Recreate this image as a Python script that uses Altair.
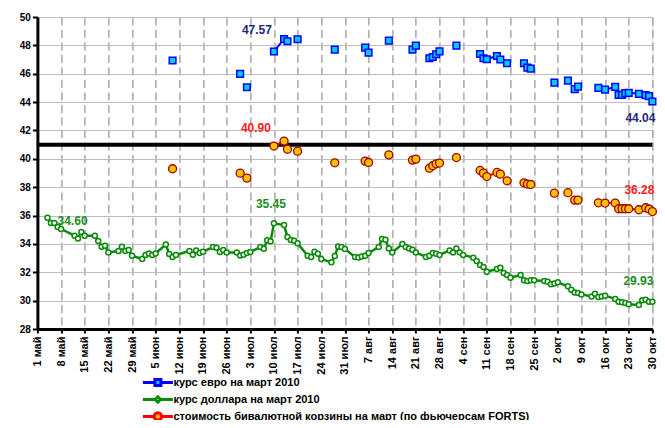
import altair as alt
import pandas as pd
import numpy as np

START = pd.Timestamp("2009-05-01")
END = pd.Timestamp("2009-10-30")
MONTHS_RU = ["янв", "фев", "мар", "апр", "май", "июн", "июл", "авг", "сен", "окт", "ноя", "дек"]

SERIES = ["курс евро на март 2010",
          "курс доллара на март 2010",
          "стоимость бивалютной корзины на март (по фьючерсам FORTS)"]

# day offsets from 1 May 2009
usd_day = [3, 4, 5, 6, 7, 11, 12, 13, 14, 17, 18, 19, 20, 21, 24, 25, 26, 27, 28,
           31, 32, 33, 34, 35, 38, 39, 40, 41, 45, 46, 47, 48, 49, 52, 53, 54, 55, 56,
           59, 60, 61, 62, 63, 66, 67, 68, 69, 70, 73, 74, 75, 76, 77, 80, 81, 82, 83, 84,
           87, 88, 89, 90, 91, 94, 95, 96, 97, 98, 101, 102, 103, 104, 105,
           108, 109, 110, 111, 112, 115, 116, 117, 118, 119, 122, 123, 124, 125, 126,
           129, 130, 131, 132, 133, 136, 137, 138, 139, 140, 143, 144, 145, 146, 147,
           150, 151, 152, 153, 154, 157, 158, 159, 160, 161, 164, 165, 166, 167, 168,
           171, 172, 173, 174, 175, 178, 179, 180, 181, 182]
usd_val = [35.85, 35.47, 35.47, 35.19, 35.05, 34.58, 34.39, 34.84, 34.58,
           34.58, 34.20, 33.80, 33.87, 33.40, 33.50, 33.80, 33.50, 33.57, 33.17,
           32.94, 33.22, 33.33, 33.22, 33.33, 33.96, 33.29, 33.08, 33.22,
           33.50, 33.24, 33.54, 33.36, 33.45, 33.78, 33.73, 33.43, 33.57, 33.40,
           33.40, 33.19, 33.24, 33.36, 33.43, 33.78, 33.66, 34.25, 34.18, 35.45,
           35.33, 34.49, 34.27, 34.23, 34.04, 33.17, 33.08, 33.45, 33.31, 32.94,
           32.70, 33.15, 33.82, 33.78, 33.64, 33.08, 33.05, 33.12, 33.17, 33.36,
           33.78, 34.35, 34.30, 33.68, 33.40, 33.99, 33.78, 33.68, 33.59, 33.40,
           33.08, 33.17, 33.36, 33.31, 33.22, 33.54, 33.40, 33.68, 33.40, 33.22,
           33.03, 32.80, 32.51, 32.37, 32.04, 32.23, 32.32, 31.95, 31.81, 31.62,
           31.81, 31.43, 31.39, 31.43, 31.43, 31.39, 31.34, 31.15, 31.20, 31.29,
           31.01, 30.77, 30.58, 30.54, 30.44, 30.30, 30.49, 30.26, 30.30, 30.35,
           30.12, 29.93, 29.88, 29.84, 29.74, 29.70, 30.02, 30.07, 29.93, 29.93]

eur_day = [40, 60, 62, 70, 73, 74, 77, 88, 97, 98, 104, 111, 112, 116, 117, 118, 119, 124,
           131, 132, 133, 136, 137, 139, 144, 145, 146, 153, 157, 159, 160, 166, 168,
           171, 172, 173, 174, 175, 178, 180, 181, 182]
eur_val = [46.93, 45.99, 45.05, 47.57, 48.45, 48.29, 48.43, 47.70, 47.84, 47.49, 48.33,
           47.70, 47.98, 47.09, 47.18, 47.37, 47.58, 47.98, 47.39, 47.09, 47.02, 47.25,
           47.00, 46.74, 46.74, 46.43, 46.36, 45.37, 45.51, 44.91, 45.09, 45.00, 44.88,
           45.07, 44.51, 44.51, 44.63, 44.65, 44.58, 44.49, 44.42, 44.04]

bsk_day = [40, 60, 62, 70, 73, 74, 77, 88, 97, 98, 104, 111, 112, 116, 117, 118, 119, 124,
           131, 132, 133, 136, 137, 139, 144, 145, 146, 153, 157, 159, 160, 166, 168,
           171, 172, 173, 174, 175, 178, 180, 181, 182]
bsk_val = [39.30, 38.99, 38.64, 40.90, 41.25, 40.68, 40.54, 39.72, 39.84, 39.74, 40.28,
           39.91, 39.98, 39.34, 39.51, 39.65, 39.70, 40.09, 39.18, 38.99, 38.75, 39.04,
           38.92, 38.45, 38.31, 38.22, 38.19, 37.58, 37.61, 37.09, 37.09, 36.90, 36.88,
           36.88, 36.48, 36.48, 36.48, 36.48, 36.41, 36.55, 36.46, 36.28]

LEVEL = [41]
Y_TICKS = list(range(28, 51, 2))

# annotations: which series / day they are attached to, and their text
ann_series = ["eur", "bsk", "usd", "usd", "eur", "bsk", "usd"]
ann_day = [70, 70, 70, 3, 182, 182, 182]
ann_text = ["47.57", "40.90", "35.45", "34.60", "44.04", "36.28", "29.93"]

# ---------------------------------------------------------------- styling
FONT = "Liberation Sans, Arial, sans-serif"
BLUE, CYAN = "#0000ff", "#00ccff"
GREEN = "#0a8a0a"
RED, ORANGE, DARKRED = "#ff0000", "#ffc000", "#a00000"
NAVY = "#26267a"
ann_style = {  # dx, dy, color
    0: (-17, -21, NAVY), 1: (-18, -18, "#ff2020"), 2: (-3, -19, "#1a8f1a"),
    3: (25, 3, "#1a8f1a"), 4: (-12, 16, NAVY), 5: (-13, -22, "#ff2020"), 6: (-14, -21, "#1a8f1a"),
}


def to_date(days):
    return [(START + pd.Timedelta(days=int(d))).strftime("%Y-%m-%d") for d in days]


def ms(ts):
    return int(ts.value // 10**6)


def series_df(days, vals):
    idx = [usd_day.index(d) for d in days]
    seg = np.concatenate([[0], np.cumsum(np.diff(idx) != 1)])
    return pd.DataFrame({"date": to_date(days), "value": vals, "seg": seg})


usd = series_df(usd_day, usd_val)
eur = series_df(eur_day, eur_val)
bsk = series_df(bsk_day, bsk_val)
lookup = {"usd": dict(zip(usd_day, usd_val)), "eur": dict(zip(eur_day, eur_val)),
          "bsk": dict(zip(bsk_day, bsk_val))}

tick_vals = [ms(t) for t in pd.date_range(START, END, freq="7D")]
month_arr = "[" + ",".join("'%s'" % m for m in MONTHS_RU) + "]"

X = alt.X("date:T",
          scale=alt.Scale(type="utc", domain=[ms(START), ms(END)], nice=False),
          axis=alt.Axis(values=tick_vals, title=None, labelAngle=270, labelAlign="right",
                        labelBaseline="middle", labelFontSize=11, labelFontWeight="bold",
                        labelFont=FONT, labelColor="black", labelPadding=3,
                        labelExpr="utcdate(datum.value) + ' ' + " + month_arr + "[utcmonth(datum.value)]",
                        labelOverlap=False, labelFlush=False, labelBound=False,
                        tickColor="black", tickWidth=2, tickSize=4,
                        domainColor="black", domainWidth=3,
                        grid=True, gridColor="#9a9a9a", gridWidth=1.3, gridDash=[8, 4.5]))
Y = alt.Y("value:Q",
          scale=alt.Scale(domain=[28, 50], nice=False, zero=False),
          axis=alt.Axis(values=Y_TICKS, title=None, labelFontSize=10, labelFontWeight="bold",
                        labelFont=FONT, labelColor="black", labelPadding=2,
                        tickColor="black", tickWidth=2, tickSize=5,
                        domainColor="black", domainWidth=3,
                        grid=True, gridColor="#bdbdbd", gridWidth=1))

layers = []
layers.append(alt.Chart(pd.DataFrame({"value": LEVEL})).mark_rule(color="black", strokeWidth=4)
              .encode(y=Y))


def series_layers(df, line_color, line_w, shape, fill, stroke, sw, size):
    ln = alt.Chart(df).mark_line(color=line_color, strokeWidth=line_w).encode(
        x=X, y=Y, detail="seg:N")
    pt = alt.Chart(df).mark_point(shape=shape, filled=True, fill=fill, stroke=stroke,
                                  strokeWidth=sw, size=size, opacity=1).encode(x=X, y=Y)
    return [ln, pt]


layers += series_layers(usd, GREEN, 2.5, "circle", "white", GREEN, 1.5, 25)
layers += series_layers(bsk, RED, 2, "circle", ORANGE, DARKRED, 1.3, 64)
layers += series_layers(eur, BLUE, 2, "square", CYAN, BLUE, 1.5, 44)

for i, (s, d, t) in enumerate(zip(ann_series, ann_day, ann_text)):
    dx, dy, col = ann_style[i]
    df = pd.DataFrame({"date": to_date([d]), "value": [lookup[s][d]], "text": [t]})
    layers.append(alt.Chart(df).mark_text(font=FONT, fontSize=12, fontWeight="bold",
                                          color=col, dx=dx, dy=dy, align="center",
                                          baseline="middle")
                  .encode(x=X, y=Y, text="text:N"))

# legend carrier (no marks drawn; legend comes from explicit scale domains)
P_EUR = "M-2.5,0H-0.5M0.5,0H2.5M-0.5,-0.5H0.5V0.5H-0.5Z"
P_USD = "M-2.5,0H-0.45M0.45,0H2.5M0,-0.45L0.45,0L0,0.45L-0.45,0Z"
P_BSK = "M-2.5,0H-0.62M0.62,0H2.5M0.62,0A0.62,0.62,0,1,1,-0.62,0A0.62,0.62,0,1,1,0.62,0Z"
LEG = alt.Legend(title=None, orient="none", legendX=113, legendY=358, direction="vertical",
                 labelFont=FONT, labelFontWeight="bold", labelFontSize=11, labelColor="black",
                 labelLimit=500, symbolSize=144, symbolStrokeWidth=3, rowPadding=-3,
                 labelOffset=8)
leg_df = pd.DataFrame({"series": SERIES, "date": to_date([0, 0, 0]), "value": [40, 40, 40]})
layers.append(alt.Chart(leg_df).transform_filter("false").mark_point(filled=True, opacity=1)
              .encode(x=X, y=Y,
                      stroke=alt.Stroke("series:N", scale=alt.Scale(domain=SERIES, range=[BLUE, GREEN, RED]), legend=LEG),
                      fill=alt.Fill("series:N", scale=alt.Scale(domain=SERIES, range=[CYAN, "white", ORANGE]), legend=LEG),
                      shape=alt.Shape("series:N", scale=alt.Scale(domain=SERIES, range=[P_EUR, P_USD, P_BSK]), legend=LEG)))

chart = alt.layer(*layers).properties(
    width=615, height=312,
    autosize=alt.AutoSizeParams(type="none"),
    padding={"left": 29.4, "top": 9, "right": 4.6, "bottom": 91},
).configure_view(stroke=None).configure(background="white")

chart.save("out.html", embed_options={"renderer": "svg", "actions": False})
